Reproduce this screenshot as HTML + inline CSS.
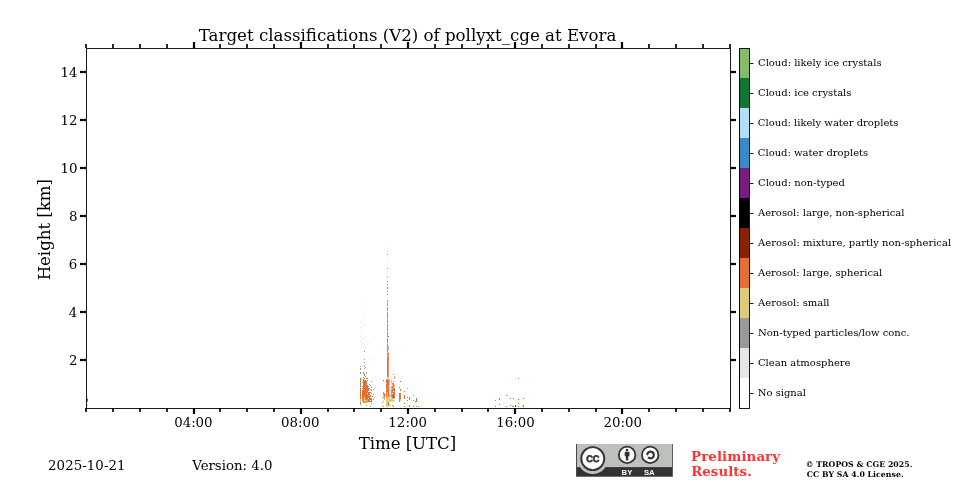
<!DOCTYPE html>
<html lang="en"><head><meta charset="utf-8"><title>Target classifications (V2) of pollyxt_cge at Evora</title>
<style>html,body{margin:0;padding:0;background:#fff}body{width:960px;height:480px;overflow:hidden}svg{display:block}text{font-family:"DejaVu Serif","Liberation Serif",serif;fill:#000}.cc text,.cc{font-family:"Liberation Sans","DejaVu Sans",sans-serif;font-weight:bold}</style></head><body>
<svg width="960" height="480" viewBox="0 0 960 480">
<rect width="960" height="480" fill="#fff"/>
<g>
<rect x="87" y="397" width="1" height="2" fill="#b4ddf7"/>
<rect x="87" y="399" width="1" height="1" fill="#781c81"/>
<rect x="87" y="400" width="1" height="2" fill="#3a89c9"/>
<rect x="87" y="405" width="1" height="1" fill="#ddcc77"/>
<rect x="360" y="300" width="1" height="1" fill="#e6e6e6"/>
<rect x="363" y="305" width="1" height="1" fill="#e6e6e6"/>
<rect x="362" y="312" width="1" height="1" fill="#e6e6e6"/>
<rect x="364" y="315" width="1" height="1" fill="#e6e6e6"/>
<rect x="360" y="321" width="1" height="1" fill="#e6e6e6"/>
<rect x="364" y="325" width="1" height="1" fill="#e6e6e6"/>
<rect x="360" y="327" width="1" height="1" fill="#e6e6e6"/>
<rect x="362" y="330" width="1" height="1" fill="#e6e6e6"/>
<rect x="360" y="333" width="1" height="1" fill="#e6e6e6"/>
<rect x="360" y="336" width="1" height="1" fill="#e6e6e6"/>
<rect x="363" y="338" width="1" height="1" fill="#e6e6e6"/>
<rect x="365" y="337" width="1" height="1" fill="#e6e6e6"/>
<rect x="364" y="339" width="1" height="1" fill="#e6e6e6"/>
<rect x="360" y="341" width="1" height="1" fill="#e6e6e6"/>
<rect x="362" y="343" width="1" height="1" fill="#e6e6e6"/>
<rect x="364" y="344" width="1" height="1" fill="#e6e6e6"/>
<rect x="368" y="343" width="1" height="1" fill="#e6e6e6"/>
<rect x="363" y="346" width="1" height="1" fill="#e6e6e6"/>
<rect x="365" y="348" width="1" height="1" fill="#e6e6e6"/>
<rect x="364" y="350" width="1" height="1" fill="#e6e6e6"/>
<rect x="369" y="357" width="1" height="1" fill="#e6e6e6"/>
<rect x="371" y="359" width="1" height="1" fill="#e6e6e6"/>
<rect x="363" y="362" width="1" height="1" fill="#e6e6e6"/>
<rect x="369" y="361" width="1" height="1" fill="#e6e6e6"/>
<rect x="363" y="365" width="1" height="1" fill="#e6e6e6"/>
<rect x="364" y="351" width="1" height="1" fill="#999999"/>
<rect x="364" y="359" width="1" height="1" fill="#999999"/>
<rect x="364" y="362" width="1" height="1" fill="#999999"/>
<rect x="360" y="368" width="1" height="1" fill="#999999"/>
<rect x="364" y="366" width="1" height="1" fill="#999999"/>
<rect x="365" y="367" width="1" height="1" fill="#999999"/>
<rect x="364" y="368" width="1" height="1" fill="#999999"/>
<rect x="360" y="366" width="1" height="1" fill="#999999"/>
<rect x="360" y="369" width="1" height="1" fill="#999999"/>
<rect x="360" y="372" width="1" height="2" fill="#999999"/>
<rect x="363" y="372" width="1" height="1" fill="#999999"/>
<rect x="366" y="372" width="1" height="2" fill="#999999"/>
<rect x="360" y="378" width="1" height="27" fill="#e67033"/>
<rect x="360" y="381" width="1" height="2" fill="#999999"/>
<rect x="360" y="384" width="1" height="2" fill="#999999"/>
<rect x="360" y="387" width="1" height="1" fill="#ddcc77"/>
<rect x="360" y="399" width="1" height="3" fill="#ddcc77"/>
<rect x="360" y="403" width="1" height="2" fill="#999999"/>
<rect x="363" y="373" width="1" height="1" fill="#e67033"/>
<rect x="364" y="374" width="1" height="1" fill="#e67033"/>
<rect x="364" y="375" width="1" height="1" fill="#e67033"/>
<rect x="365" y="376" width="1" height="1" fill="#e67033"/>
<rect x="363" y="377" width="1" height="1" fill="#e67033"/>
<rect x="364" y="378" width="1" height="1" fill="#e67033"/>
<rect x="363" y="379" width="1" height="1" fill="#e67033"/>
<rect x="366" y="378" width="1" height="1" fill="#e67033"/>
<rect x="367" y="378" width="1" height="1" fill="#e67033"/>
<rect x="365" y="380" width="1" height="1" fill="#e67033"/>
<rect x="367" y="380" width="1" height="1" fill="#e67033"/>
<rect x="366" y="381" width="1" height="1" fill="#e67033"/>
<rect x="363" y="380" width="3" height="1" fill="#e67033"/>
<rect x="363" y="381" width="3" height="1" fill="#e67033"/>
<rect x="363" y="382" width="4" height="1" fill="#e67033"/>
<rect x="363" y="383" width="4" height="1" fill="#e67033"/>
<rect x="363" y="384" width="4" height="1" fill="#e67033"/>
<rect x="363" y="385" width="5" height="1" fill="#e67033"/>
<rect x="363" y="386" width="5" height="1" fill="#e67033"/>
<rect x="363" y="387" width="5" height="1" fill="#e67033"/>
<rect x="363" y="388" width="6" height="1" fill="#e67033"/>
<rect x="363" y="389" width="6" height="1" fill="#e67033"/>
<rect x="362" y="390" width="7" height="1" fill="#e67033"/>
<rect x="362" y="391" width="7" height="1" fill="#e67033"/>
<rect x="362" y="392" width="8" height="1" fill="#e67033"/>
<rect x="362" y="393" width="8" height="1" fill="#e67033"/>
<rect x="362" y="394" width="8" height="1" fill="#e67033"/>
<rect x="362" y="395" width="9" height="1" fill="#e67033"/>
<rect x="362" y="396" width="9" height="1" fill="#e67033"/>
<rect x="362" y="397" width="9" height="1" fill="#e67033"/>
<rect x="362" y="398" width="10" height="1" fill="#e67033"/>
<rect x="362" y="399" width="10" height="1" fill="#e67033"/>
<rect x="362" y="400" width="10" height="1" fill="#e67033"/>
<rect x="362" y="401" width="10" height="1" fill="#e67033"/>
<rect x="363" y="402" width="4.3" height="0.8" fill="#e67033"/>
<rect x="364" y="397" width="1" height="3" fill="#ddcc77"/>
<rect x="362.4" y="399.8" width="5" height="1.8" fill="#ddcc77"/>
<rect x="363" y="400" width="1" height="1" fill="#999999"/>
<rect x="362" y="383" width="1" height="1" fill="#ffffff"/>
<rect x="362" y="387" width="1" height="1" fill="#ffffff"/>
<rect x="368" y="391" width="1" height="1" fill="#ffffff"/>
<rect x="369" y="395" width="1" height="1" fill="#ffffff"/>
<rect x="370" y="397" width="1" height="1" fill="#ffffff"/>
<rect x="368" y="398" width="1" height="1" fill="#ffffff"/>
<rect x="370" y="400" width="1" height="1" fill="#ffffff"/>
<rect x="367" y="393" width="1" height="1" fill="#ffffff"/>
<rect x="362" y="382" width="1" height="1" fill="#999999"/>
<rect x="362" y="386" width="1" height="1" fill="#999999"/>
<rect x="362" y="388" width="1" height="1" fill="#999999"/>
<rect x="373" y="389" width="1" height="1" fill="#e67033"/>
<rect x="373" y="394" width="1" height="1" fill="#e67033"/>
<rect x="373" y="399" width="1" height="1" fill="#e67033"/>
<rect x="371" y="387" width="1" height="1" fill="#e67033"/>
<rect x="370" y="389" width="1" height="1" fill="#e67033"/>
<rect x="371" y="390" width="1" height="1" fill="#e67033"/>
<rect x="370" y="392" width="1" height="1" fill="#e67033"/>
<rect x="371" y="393" width="1" height="1" fill="#e67033"/>
<rect x="369" y="388" width="1" height="1" fill="#e67033"/>
<rect x="372" y="396" width="1" height="1" fill="#e67033"/>
<rect x="371" y="400" width="1" height="1" fill="#e67033"/>
<rect x="373" y="397" width="1" height="1" fill="#ddcc77"/>
<rect x="371" y="381" width="1" height="1" fill="#999999"/>
<rect x="369" y="384" width="1" height="1" fill="#999999"/>
<rect x="370" y="385" width="1" height="1" fill="#999999"/>
<rect x="371" y="403" width="1" height="1" fill="#999999"/>
<rect x="366" y="405" width="1" height="1" fill="#999999"/>
<rect x="370" y="406" width="1" height="1" fill="#999999"/>
<rect x="368" y="386" width="1" height="1" fill="#999999"/>
<rect x="387" y="247" width="1" height="1" fill="#e6e6e6"/>
<rect x="387" y="251" width="1" height="1" fill="#e6e6e6"/>
<rect x="387" y="259" width="1" height="1" fill="#e6e6e6"/>
<rect x="387" y="262" width="1" height="1" fill="#e6e6e6"/>
<rect x="387" y="271" width="1" height="1" fill="#e6e6e6"/>
<rect x="387" y="278" width="1" height="1" fill="#e6e6e6"/>
<rect x="387" y="298" width="1" height="1" fill="#e6e6e6"/>
<rect x="387" y="254" width="1" height="1" fill="#999999"/>
<rect x="387" y="268" width="1" height="1" fill="#999999"/>
<rect x="387" y="276" width="1" height="1" fill="#999999"/>
<rect x="387" y="281" width="1" height="1" fill="#999999"/>
<rect x="387" y="284" width="1" height="1" fill="#999999"/>
<rect x="387" y="287" width="1" height="1" fill="#999999"/>
<rect x="387" y="288" width="1" height="1" fill="#999999"/>
<rect x="387" y="291" width="1" height="1" fill="#999999"/>
<rect x="387" y="294" width="1" height="1" fill="#999999"/>
<rect x="387" y="300" width="1" height="52" fill="#999999"/>
<rect x="387" y="302" width="1" height="1" fill="#ffffff"/>
<rect x="387" y="306" width="1" height="1" fill="#ffffff"/>
<rect x="387" y="311" width="1" height="1" fill="#ffffff"/>
<rect x="387" y="323" width="1" height="1" fill="#ffffff"/>
<rect x="387" y="331" width="1" height="1" fill="#ffffff"/>
<rect x="387" y="337" width="1" height="1" fill="#ffffff"/>
<rect x="387" y="319" width="1" height="1" fill="#ddcc77"/>
<rect x="387" y="340" width="1" height="1" fill="#e67033"/>
<rect x="387" y="343" width="1" height="1" fill="#ddcc77"/>
<rect x="388" y="336" width="1" height="1.5" fill="#999999"/>
<rect x="388" y="346" width="1" height="1" fill="#999999"/>
<rect x="388" y="348" width="1" height="1.5" fill="#e67033"/>
<rect x="387" y="352.5" width="1.8" height="25" fill="#e67033"/>
<rect x="387" y="355" width="1" height="1.5" fill="#ddcc77"/>
<rect x="387.1" y="376.9" width="1.8" height="1.9" fill="#ddcc77"/>
<rect x="386" y="379.3" width="3.5" height="18.4" fill="#e67033"/>
<rect x="386.9" y="391.9" width="1" height="5.6" fill="#ddcc77"/>
<rect x="386" y="401.3" width="2.1" height="5.6" fill="#ddcc77"/>
<rect x="388" y="402" width="1" height="3.8" fill="#e67033"/>
<rect x="386" y="383" width="1" height="1" fill="#ddcc77"/>
<rect x="388" y="386" width="1" height="1" fill="#ddcc77"/>
<rect x="386" y="389" width="1" height="1" fill="#ddcc77"/>
<rect x="391.25" y="389.6" width="3.7" height="9" fill="#e67033"/>
<rect x="391.5" y="383" width="2.2" height="1.6" fill="#e67033"/>
<rect x="392.6" y="384.4" width="2" height="2.2" fill="#e67033"/>
<rect x="391.3" y="386" width="2.2" height="2.2" fill="#e67033"/>
<rect x="392.6" y="387.6" width="2" height="2.1" fill="#e67033"/>
<rect x="391.3" y="388.4" width="1.4" height="1.3" fill="#e67033"/>
<rect x="394" y="389" width="1" height="1" fill="#882200"/>
<rect x="393" y="396" width="1" height="1" fill="#882200"/>
<rect x="390" y="395" width="1" height="1" fill="#3a89c9"/>
<rect x="389.7" y="389.3" width="0.9" height="3.3" fill="#b4ddf7"/>
<rect x="392" y="390" width="1" height="1" fill="#999999"/>
<rect x="392" y="393" width="1" height="1" fill="#ffffff"/>
<rect x="393" y="391" width="1" height="1" fill="#ffffff"/>
<polygon points="386,397.4 389.8,397.2 394.7,400.6 394.7,401.8 386,401.8" fill="#ddcc77"/>
<rect x="390.5" y="397.9" width="0.8" height="1.1" fill="#ffffff"/>
<rect x="383" y="393.3" width="2" height="1.7" fill="#e67033"/>
<rect x="384" y="395" width="1.2" height="1.6" fill="#e67033"/>
<rect x="383" y="396.4" width="2" height="1.3" fill="#e67033"/>
<rect x="384.2" y="397.6" width="0.9" height="1.2" fill="#e67033"/>
<rect x="382" y="397.5" width="1" height="1" fill="#999999"/>
<rect x="383" y="392" width="1" height="1" fill="#999999"/>
<rect x="383" y="400.5" width="1" height="1" fill="#999999"/>
<rect x="382" y="402" width="1" height="1" fill="#999999"/>
<rect x="384" y="399" width="1" height="1" fill="#ddcc77"/>
<rect x="382.25" y="406" width="1.5" height="0.9" fill="#e67033"/>
<rect x="382" y="389" width="1" height="1" fill="#e6e6e6"/>
<rect x="383" y="380" width="1" height="1" fill="#3a89c9"/>
<rect x="400" y="381" width="1" height="1" fill="#3a89c9"/>
<rect x="391" y="377" width="1" height="1" fill="#b4ddf7"/>
<rect x="391" y="379" width="1" height="1" fill="#b4ddf7"/>
<rect x="393" y="374" width="1" height="1" fill="#999999"/>
<rect x="393" y="381" width="1" height="1" fill="#999999"/>
<rect x="391" y="381" width="1" height="1" fill="#999999"/>
<rect x="394" y="376.5" width="1" height="2" fill="#e67033"/>
<rect x="389" y="404.6" width="1.5" height="1" fill="#e67033"/>
<rect x="392" y="405" width="1" height="1" fill="#999999"/>
<rect x="393" y="406" width="1" height="1" fill="#e67033"/>
<rect x="399" y="387" width="1" height="1" fill="#e67033"/>
<rect x="400" y="389" width="1" height="2" fill="#e67033"/>
<rect x="399" y="393" width="1" height="9" fill="#e67033"/>
<rect x="400" y="393" width="1" height="1" fill="#e67033"/>
<rect x="400" y="394" width="1" height="1" fill="#999999"/>
<rect x="400" y="395" width="1" height="1" fill="#e67033"/>
<rect x="400" y="396" width="1" height="1" fill="#999999"/>
<rect x="400" y="397" width="1" height="2" fill="#e67033"/>
<rect x="400" y="399" width="1" height="2" fill="#ddcc77"/>
<rect x="407" y="388" width="1" height="1" fill="#999999"/>
<rect x="404" y="391" width="1" height="1" fill="#e67033"/>
<rect x="404" y="395" width="1" height="4" fill="#e67033"/>
<rect x="404" y="403" width="1" height="1" fill="#e67033"/>
<rect x="404" y="406" width="1" height="1" fill="#e67033"/>
<rect x="407" y="397" width="1" height="1" fill="#e67033"/>
<rect x="407" y="400" width="1" height="1" fill="#e67033"/>
<rect x="409" y="397" width="1" height="3" fill="#e67033"/>
<rect x="409" y="405" width="1" height="2" fill="#e67033"/>
<rect x="413" y="395" width="1" height="1" fill="#e67033"/>
<rect x="413" y="400" width="1" height="1" fill="#e67033"/>
<rect x="413" y="405" width="1" height="1" fill="#ddcc77"/>
<rect x="413" y="406" width="1" height="1" fill="#999999"/>
<rect x="416" y="398" width="1" height="2" fill="#3a89c9"/>
<rect x="415" y="401" width="1" height="1" fill="#e67033"/>
<rect x="416" y="400" width="1" height="2" fill="#e67033"/>
<rect x="416" y="406" width="1" height="1" fill="#999999"/>
<rect x="418" y="406" width="1" height="1" fill="#e67033"/>
<rect x="518" y="378" width="1" height="1" fill="#e67033"/>
<rect x="506" y="395" width="1" height="1" fill="#e67033"/>
<rect x="510" y="398" width="1" height="1" fill="#e67033"/>
<rect x="513" y="398" width="1" height="1" fill="#e67033"/>
<rect x="518" y="399" width="1" height="1" fill="#e67033"/>
<rect x="523" y="398" width="1" height="1" fill="#e67033"/>
<rect x="499" y="404" width="1" height="1" fill="#e67033"/>
<rect x="518" y="403" width="1" height="1" fill="#e67033"/>
<rect x="495" y="406" width="1" height="1" fill="#e67033"/>
<rect x="506" y="406" width="1" height="1" fill="#e67033"/>
<rect x="510" y="405" width="1" height="1" fill="#e67033"/>
<rect x="518" y="406" width="1" height="1" fill="#e67033"/>
<rect x="499" y="398" width="1" height="2" fill="#e67033"/>
<rect x="495" y="400" width="1" height="1" fill="#999999"/>
<rect x="512" y="406" width="2" height="1" fill="#e67033"/>
<rect x="515" y="405" width="1" height="2" fill="#882200"/>
<rect x="522" y="405" width="1" height="1" fill="#ddcc77"/>
<rect x="523" y="405" width="1" height="2" fill="#e67033"/>
</g>
<g shape-rendering="crispEdges">
<rect x="86" y="48" width="645" height="1" fill="#1b1b1b"/>
<rect x="86" y="408" width="645" height="1" fill="#1b1b1b"/>
<rect x="86" y="48" width="1" height="361" fill="#1b1b1b"/>
<rect x="730" y="48" width="1" height="361" fill="#1b1b1b"/>
<rect x="85" y="44" width="2" height="4" fill="#2a2a2a"/>
<rect x="85" y="409" width="2" height="3" fill="#2a2a2a"/>
<rect x="85" y="408" width="2" height="1" fill="#040404"/>
<rect x="112" y="44" width="2" height="4" fill="#2a2a2a"/>
<rect x="112" y="409" width="2" height="3" fill="#2a2a2a"/>
<rect x="112" y="408" width="2" height="1" fill="#040404"/>
<rect x="139" y="44" width="2" height="4" fill="#2a2a2a"/>
<rect x="139" y="409" width="2" height="3" fill="#2a2a2a"/>
<rect x="139" y="408" width="2" height="1" fill="#040404"/>
<rect x="166" y="44" width="2" height="4" fill="#2a2a2a"/>
<rect x="166" y="409" width="2" height="3" fill="#2a2a2a"/>
<rect x="166" y="408" width="2" height="1" fill="#040404"/>
<rect x="219" y="44" width="2" height="4" fill="#2a2a2a"/>
<rect x="219" y="409" width="2" height="3" fill="#2a2a2a"/>
<rect x="219" y="408" width="2" height="1" fill="#040404"/>
<rect x="246" y="44" width="2" height="4" fill="#2a2a2a"/>
<rect x="246" y="409" width="2" height="3" fill="#2a2a2a"/>
<rect x="246" y="408" width="2" height="1" fill="#040404"/>
<rect x="273" y="44" width="2" height="4" fill="#2a2a2a"/>
<rect x="273" y="409" width="2" height="3" fill="#2a2a2a"/>
<rect x="273" y="408" width="2" height="1" fill="#040404"/>
<rect x="327" y="44" width="2" height="4" fill="#2a2a2a"/>
<rect x="327" y="409" width="2" height="3" fill="#2a2a2a"/>
<rect x="327" y="408" width="2" height="1" fill="#040404"/>
<rect x="353" y="44" width="2" height="4" fill="#2a2a2a"/>
<rect x="353" y="409" width="2" height="3" fill="#2a2a2a"/>
<rect x="353" y="408" width="2" height="1" fill="#040404"/>
<rect x="380" y="44" width="2" height="4" fill="#2a2a2a"/>
<rect x="380" y="409" width="2" height="3" fill="#2a2a2a"/>
<rect x="380" y="408" width="2" height="1" fill="#040404"/>
<rect x="434" y="44" width="2" height="4" fill="#2a2a2a"/>
<rect x="434" y="409" width="2" height="3" fill="#2a2a2a"/>
<rect x="434" y="408" width="2" height="1" fill="#040404"/>
<rect x="461" y="44" width="2" height="4" fill="#2a2a2a"/>
<rect x="461" y="409" width="2" height="3" fill="#2a2a2a"/>
<rect x="461" y="408" width="2" height="1" fill="#040404"/>
<rect x="487" y="44" width="2" height="4" fill="#2a2a2a"/>
<rect x="487" y="409" width="2" height="3" fill="#2a2a2a"/>
<rect x="487" y="408" width="2" height="1" fill="#040404"/>
<rect x="541" y="44" width="2" height="4" fill="#2a2a2a"/>
<rect x="541" y="409" width="2" height="3" fill="#2a2a2a"/>
<rect x="541" y="408" width="2" height="1" fill="#040404"/>
<rect x="568" y="44" width="2" height="4" fill="#2a2a2a"/>
<rect x="568" y="409" width="2" height="3" fill="#2a2a2a"/>
<rect x="568" y="408" width="2" height="1" fill="#040404"/>
<rect x="595" y="44" width="2" height="4" fill="#2a2a2a"/>
<rect x="595" y="409" width="2" height="3" fill="#2a2a2a"/>
<rect x="595" y="408" width="2" height="1" fill="#040404"/>
<rect x="648" y="44" width="2" height="4" fill="#2a2a2a"/>
<rect x="648" y="409" width="2" height="3" fill="#2a2a2a"/>
<rect x="648" y="408" width="2" height="1" fill="#040404"/>
<rect x="675" y="44" width="2" height="4" fill="#2a2a2a"/>
<rect x="675" y="409" width="2" height="3" fill="#2a2a2a"/>
<rect x="675" y="408" width="2" height="1" fill="#040404"/>
<rect x="702" y="44" width="2" height="4" fill="#2a2a2a"/>
<rect x="702" y="409" width="2" height="3" fill="#2a2a2a"/>
<rect x="702" y="408" width="2" height="1" fill="#040404"/>
<rect x="729" y="44" width="2" height="4" fill="#2a2a2a"/>
<rect x="729" y="409" width="2" height="3" fill="#2a2a2a"/>
<rect x="729" y="408" width="2" height="1" fill="#040404"/>
<rect x="192" y="42" width="4" height="6" fill="#e3e3e3"/>
<rect x="193" y="42" width="2" height="6" fill="#000"/>
<rect x="192" y="409" width="4" height="5" fill="#e3e3e3"/>
<rect x="193" y="408" width="2" height="6" fill="#000"/>
<rect x="299" y="42" width="4" height="6" fill="#e3e3e3"/>
<rect x="300" y="42" width="2" height="6" fill="#000"/>
<rect x="299" y="409" width="4" height="5" fill="#e3e3e3"/>
<rect x="300" y="408" width="2" height="6" fill="#000"/>
<rect x="406" y="42" width="4" height="6" fill="#e3e3e3"/>
<rect x="407" y="42" width="2" height="6" fill="#000"/>
<rect x="406" y="409" width="4" height="5" fill="#e3e3e3"/>
<rect x="407" y="408" width="2" height="6" fill="#000"/>
<rect x="513" y="42" width="4" height="6" fill="#e3e3e3"/>
<rect x="514" y="42" width="2" height="6" fill="#000"/>
<rect x="513" y="409" width="4" height="5" fill="#e3e3e3"/>
<rect x="514" y="408" width="2" height="6" fill="#000"/>
<rect x="620" y="42" width="4" height="6" fill="#e3e3e3"/>
<rect x="621" y="42" width="2" height="6" fill="#000"/>
<rect x="620" y="409" width="4" height="5" fill="#e3e3e3"/>
<rect x="621" y="408" width="2" height="6" fill="#000"/>
<rect x="80" y="70" width="6" height="4" fill="#e3e3e3"/>
<rect x="80" y="71" width="6" height="2" fill="#000"/>
<rect x="731" y="70" width="5" height="4" fill="#e3e3e3"/>
<rect x="730" y="71" width="6" height="2" fill="#000"/>
<rect x="80" y="118" width="6" height="4" fill="#e3e3e3"/>
<rect x="80" y="119" width="6" height="2" fill="#000"/>
<rect x="731" y="118" width="5" height="4" fill="#e3e3e3"/>
<rect x="730" y="119" width="6" height="2" fill="#000"/>
<rect x="80" y="166" width="6" height="4" fill="#e3e3e3"/>
<rect x="80" y="167" width="6" height="2" fill="#000"/>
<rect x="731" y="166" width="5" height="4" fill="#e3e3e3"/>
<rect x="730" y="167" width="6" height="2" fill="#000"/>
<rect x="80" y="214" width="6" height="4" fill="#e3e3e3"/>
<rect x="80" y="215" width="6" height="2" fill="#000"/>
<rect x="731" y="214" width="5" height="4" fill="#e3e3e3"/>
<rect x="730" y="215" width="6" height="2" fill="#000"/>
<rect x="80" y="262" width="6" height="4" fill="#e3e3e3"/>
<rect x="80" y="263" width="6" height="2" fill="#000"/>
<rect x="731" y="262" width="5" height="4" fill="#e3e3e3"/>
<rect x="730" y="263" width="6" height="2" fill="#000"/>
<rect x="80" y="310" width="6" height="4" fill="#e3e3e3"/>
<rect x="80" y="311" width="6" height="2" fill="#000"/>
<rect x="731" y="310" width="5" height="4" fill="#e3e3e3"/>
<rect x="730" y="311" width="6" height="2" fill="#000"/>
<rect x="80" y="358" width="6" height="4" fill="#e3e3e3"/>
<rect x="80" y="359" width="6" height="2" fill="#000"/>
<rect x="731" y="358" width="5" height="4" fill="#e3e3e3"/>
<rect x="730" y="359" width="6" height="2" fill="#000"/>
<rect x="740" y="48" width="9" height="30" fill="#86bb6a"/>
<rect x="740" y="78" width="9" height="30" fill="#117733"/>
<rect x="740" y="108" width="9" height="30" fill="#b4ddf7"/>
<rect x="740" y="138" width="9" height="30" fill="#3a89c9"/>
<rect x="740" y="168" width="9" height="30" fill="#781c81"/>
<rect x="740" y="198" width="9" height="30" fill="#000000"/>
<rect x="740" y="228" width="9" height="30" fill="#882200"/>
<rect x="740" y="258" width="9" height="30" fill="#e67033"/>
<rect x="740" y="288" width="9" height="30" fill="#ddcc77"/>
<rect x="740" y="318" width="9" height="30" fill="#999999"/>
<rect x="740" y="348" width="9" height="30" fill="#e6e6e6"/>
<rect x="740" y="378" width="9" height="30" fill="#ffffff"/>
<rect x="739" y="48" width="1" height="361" fill="#060606"/>
<rect x="749" y="48" width="1" height="361" fill="#1b1b1b"/>
<rect x="739" y="48" width="11" height="1" fill="#0f0f0f"/>
<rect x="739" y="408" width="11" height="1" fill="#1b1b1b"/>
<rect x="749" y="63" width="4" height="1" fill="#1b1b1b"/>
<rect x="753" y="63" width="1" height="1" fill="#8d8d8d"/>
<rect x="749" y="93" width="4" height="1" fill="#1b1b1b"/>
<rect x="753" y="93" width="1" height="1" fill="#8d8d8d"/>
<rect x="749" y="123" width="4" height="1" fill="#1b1b1b"/>
<rect x="753" y="123" width="1" height="1" fill="#8d8d8d"/>
<rect x="749" y="153" width="4" height="1" fill="#1b1b1b"/>
<rect x="753" y="153" width="1" height="1" fill="#8d8d8d"/>
<rect x="749" y="183" width="4" height="1" fill="#1b1b1b"/>
<rect x="753" y="183" width="1" height="1" fill="#8d8d8d"/>
<rect x="749" y="213" width="4" height="1" fill="#1b1b1b"/>
<rect x="753" y="213" width="1" height="1" fill="#8d8d8d"/>
<rect x="749" y="243" width="4" height="1" fill="#1b1b1b"/>
<rect x="753" y="243" width="1" height="1" fill="#8d8d8d"/>
<rect x="749" y="273" width="4" height="1" fill="#1b1b1b"/>
<rect x="753" y="273" width="1" height="1" fill="#8d8d8d"/>
<rect x="749" y="303" width="4" height="1" fill="#1b1b1b"/>
<rect x="753" y="303" width="1" height="1" fill="#8d8d8d"/>
<rect x="749" y="333" width="4" height="1" fill="#1b1b1b"/>
<rect x="753" y="333" width="1" height="1" fill="#8d8d8d"/>
<rect x="749" y="363" width="4" height="1" fill="#1b1b1b"/>
<rect x="753" y="363" width="1" height="1" fill="#8d8d8d"/>
<rect x="749" y="393" width="4" height="1" fill="#1b1b1b"/>
<rect x="753" y="393" width="1" height="1" fill="#8d8d8d"/>
</g>
<text x="193.38" y="427.00" font-size="13.333" text-anchor="middle" textLength="38.38">04:00</text>
<text x="300.34" y="427.00" font-size="13.333" text-anchor="middle" textLength="38.50">08:00</text>
<text x="407.64" y="427.00" font-size="13.333" text-anchor="middle" textLength="38.62">12:00</text>
<text x="515.44" y="427.00" font-size="13.333" text-anchor="middle" textLength="38.62">16:00</text>
<text x="622.66" y="427.00" font-size="13.333" text-anchor="middle" textLength="38.50">20:00</text>
<text x="407.51" y="449.00" font-size="16.667" text-anchor="middle" textLength="97.50">Time [UTC]</text>
<text x="77.47" y="365.00" font-size="13.333" text-anchor="end">2</text>
<text x="77.27" y="317.00" font-size="13.333" text-anchor="end">4</text>
<text x="77.33" y="269.00" font-size="13.333" text-anchor="end">6</text>
<text x="77.41" y="221.00" font-size="13.333" text-anchor="end">8</text>
<text x="77.45" y="173.00" font-size="13.333" text-anchor="end">10</text>
<text x="77.47" y="125.00" font-size="13.333" text-anchor="end">12</text>
<text x="77.48" y="77.00" font-size="13.333" text-anchor="end">14</text>
<text x="49.91" y="229.69" font-size="16.667" text-anchor="middle" textLength="101.38" transform="rotate(-90 49.91 229.69)">Height [km]</text>
<text x="407.59" y="41.00" font-size="16.667" text-anchor="middle" textLength="417.62">Target classifications (V2) of pollyxt_cge at Evora</text>
<text x="757.81" y="396.00" font-size="10.000" textLength="48.12">No signal</text>
<text x="757.92" y="366.00" font-size="10.000" textLength="92.62">Clean atmosphere</text>
<text x="758.11" y="336.00" font-size="10.000" textLength="151.38">Non-typed particles/low conc.</text>
<text x="758.06" y="306.00" font-size="10.000" textLength="71.50">Aerosol: small</text>
<text x="757.92" y="276.00" font-size="10.000" textLength="124.25">Aerosol: large, spherical</text>
<text x="758.04" y="246.00" font-size="10.000" textLength="193.12">Aerosol: mixture, partly non-spherical</text>
<text x="757.92" y="216.00" font-size="10.000" textLength="146.62">Aerosol: large, non-spherical</text>
<text x="758.02" y="186.00" font-size="10.000" textLength="86.88">Cloud: non-typed</text>
<text x="757.83" y="156.00" font-size="10.000" textLength="110.38">Cloud: water droplets</text>
<text x="757.87" y="126.00" font-size="10.000" textLength="140.62">Cloud: likely water droplets</text>
<text x="758.04" y="96.00" font-size="10.000" textLength="93.38">Cloud: ice crystals</text>
<text x="758.01" y="66.00" font-size="10.000" textLength="123.62">Cloud: likely ice crystals</text>
<text x="48.03" y="470.00" font-size="13.333" textLength="77.50">2025-10-21</text>
<text x="192.26" y="470.00" font-size="13.333" textLength="80.12">Version: 4.0</text>
<text x="691.09" y="461.00" font-size="13.333" font-weight="bold" fill="#ff3333" style="fill:#ff3333" textLength="88.88">Preliminary</text>
<text x="691.15" y="476.00" font-size="13.333" font-weight="bold" fill="#ff3333" style="fill:#ff3333" textLength="60.62">Results.</text>
<text x="805.75" y="467.00" font-size="7.778" font-weight="bold" textLength="106.62">© TROPOS &amp; CGE 2025.</text>
<text x="806.85" y="477.00" font-size="7.778" font-weight="bold" textLength="96.75">CC BY SA 4.0 License.</text>
<defs><clipPath id="bc"><rect x="577" y="444" width="95" height="32.7"/></clipPath></defs>
<g class="cc">
<rect x="576.1" y="444" width="96.2" height="32.7" fill="#333"/>
<rect x="672" y="444" width="0.9" height="32.7" fill="#555"/>
<rect x="577" y="444" width="95" height="23.1" fill="#bcc1bb"/>
<circle cx="592.75" cy="458.6" r="15.3" fill="#bcc1bb" clip-path="url(#bc)"/>
<circle cx="592.75" cy="458.6" r="11.5" fill="#fff" stroke="#333" stroke-width="1.9"/>
<text transform="translate(592.85 462.2) scale(0.97 1)" text-rendering="geometricPrecision" text-anchor="middle" font-size="9.5" style="fill:#333;stroke:#333;stroke-width:0.6">CC</text>
<circle cx="627.1" cy="454.9" r="8.25" fill="#fff" stroke="#333" stroke-width="1.8"/>
<circle cx="627" cy="450" r="1.3" fill="#333"/>
<path d="M624.7 452.3 q0-.6 .6-.6 h3.6 q.6 0 .6 .6 v4 h-1.2 v4.3 h-2.5 v-4.3 h-1.1z" fill="#333"/>
<circle cx="650.2" cy="454.9" r="8.25" fill="#fff" stroke="#333" stroke-width="1.8"/>
<path d="M647.32 453.62 A3.40 3.40 0 1 1 648.00 457.31" fill="none" stroke="#333" stroke-width="2.2"/>
<path d="M645.7 453.3 h3.6 l-1.9 2.5z" fill="#333"/>
<text x="621.6" y="474.9" font-size="7.7" style="fill:#fff">BY</text>
<text x="643.9" y="474.9" font-size="7.7" style="fill:#fff">SA</text>
</g>

</svg></body></html>
